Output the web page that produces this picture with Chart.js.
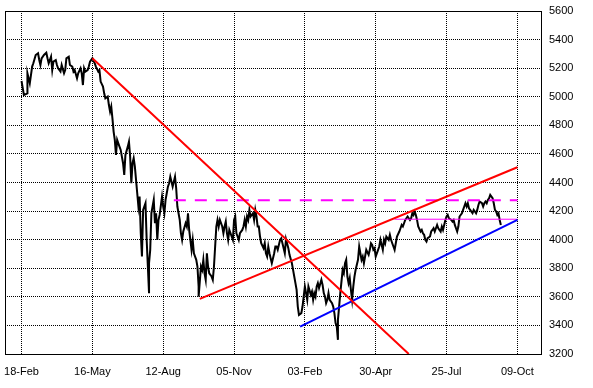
<!DOCTYPE html>
<html>
<head>
<meta charset="utf-8">
<script src="https://cdn.jsdelivr.net/npm/chart.js@4.4.0/dist/chart.umd.min.js"></script>
<style>
html, body { margin: 0; padding: 0; background: #fff; }
</style>
</head>
<body>
<canvas id="myChart" width="593" height="388"></canvas>
<script>
// x axis = trading day counted from 18-Feb, a label every 60 days
let tickDays = [0, 60, 120, 180, 240, 300, 360, 420];
let tickLabels = ['18-Feb', '16-May', '12-Aug', '05-Nov', '03-Feb', '30-Apr', '25-Jul', '09-Oct'];

let days = [0,2,5,5,7,9,10,12,14,15,16,17,19,21,22,23,25,26,27,29,30,31,33,34,36,37,38,40,41,43,44,45,47,48,50,51,52,53,54,56,57,58,60,62,63,65,66,67,69,70,
71,73,74,75,76,77,78,79,80,81,82,84,85,86,87,88,90,91,92,93,94,95,96,97,98,99,100,101,102,103,105,106,107,108,108,109,110,112,113,114,115,116,117,119,120,121,122,123,124,125,
126,127,128,130,131,132,133,134,135,136,137,139,140,141,142,143,144,145,146,148,149,150,150,152,153,154,155,156,157,158,159,161,162,163,164,165,166,167,168,170,171,172,173,174,175,176,178,179,180,181,
182,183,184,185,187,188,189,190,191,192,193,194,196,197,198,199,200,201,202,203,205,206,207,208,209,210,211,212,214,215,216,217,219,220,222,223,224,226,227,229,230,231,232,233,234,235,237,238,239,240,
241,242,243,245,246,247,248,249,250,251,252,254,255,256,257,258,259,260,261,263,264,265,266,267,268,268,269,270,272,273,274,275,276,277,278,279,280,281,282,283,285,286,287,288,289,290,291,292,294,295,
296,297,298,299,300,302,303,304,305,306,307,308,309,311,312,313,314,315,316,317,318,320,321,322,323,324,325,326,327,329,330,331,332,333,334,335,336,338,339,340,341,342,343,344,346,347,348,349,350,351,
352,353,355,356,357,358,359,360,361,362,364,365,366,367,368,369,370,371,373,374,375,376,377,378,379,380,382,383,384,385,386,387,388,390,391,392,393,394,395,396,397,399,400,401,402,403,404,405,406];

let closes = [5110,5012,5024,5164,5094,5211,5234,5292,5304,5257,5222,5269,5292,5308,5269,5234,5280,5187,5246,5257,5222,5199,5176,5222,5164,5187,5269,5280,5222,5211,5176,5187,5129,5164,5199,5164,5082,5199,5176,5187,5211,5246,5269,5234,5211,5176,5187,5106,5071,5024,
4989,5001,4942,4896,4931,4849,4756,4698,4593,4698,4674,4628,4581,4535,4453,4593,4651,4686,4581,4395,4535,4570,4511,4418,4325,4232,4301,4045,3882,4208,4255,3998,3812,3625,3835,3928,4185,4278,4115,4185,3998,4138,4173,4301,4232,4185,4278,4325,4371,4395,
4441,4406,4371,4441,4360,4232,4185,4138,4045,3998,4057,4115,4092,4185,4068,3998,3928,3998,3905,3859,3812,3672,3602,3812,3789,3859,3765,3719,3905,3812,3765,3742,3719,3812,3952,4092,4138,4092,4138,4092,4045,4092,4127,4045,3998,4068,4022,3998,4138,4162,
4045,4022,3998,4045,4068,4092,4138,4092,4162,4138,4208,4162,4185,4138,4208,4162,4092,4092,4022,3975,3940,3975,3905,3882,3952,3905,3870,3835,3905,3952,3952,3929,3999,4010,3940,3905,4003,3940,3894,3835,3789,3742,3696,3649,3532,3474,3486,3532,3602,3672,
3626,3579,3672,3614,3637,3579,3626,3602,3672,3696,3661,3719,3684,3626,3602,3556,3579,3626,3579,3556,3532,3486,3416,3393,3299,3439,3532,3626,3789,3765,3835,3859,3742,3696,3731,3649,3579,3672,3742,3789,3859,3952,3905,3859,3882,3835,3882,3929,3894,3929,
3975,3964,3929,3940,3882,3929,3952,3999,3964,3929,3999,3975,4022,3999,4034,3999,3975,3952,3929,3975,4022,4057,4080,4103,4092,4115,4138,4150,4162,4138,4150,4185,4173,4197,4173,4138,4092,4057,4068,4045,4034,3999,3987,4010,4022,4057,4068,4080,4057,4080,
4103,4080,4057,4092,4068,4103,4138,4162,4173,4150,4138,4127,4138,4103,4080,4057,4092,4162,4185,4208,4232,4255,4232,4255,4220,4208,4185,4208,4197,4185,4208,4243,4267,4255,4232,4255,4267,4255,4278,4290,4313,4290,4255,4208,4197,4173,4185,4138,4103];

// trend lines: [day, value] at both ends
let downTrend = [[60, 5270], [328, 3200]];
let upperChannel = [[151, 3586], [420, 4507]];
let lowerChannel = [[236, 3392], [420, 4138]];
let dashedLevel = [[129, 4275], [420, 4275]];
let supportLevel = [[316, 4143], [420, 4143]];

let labelFont = { family: '"Liberation Sans", Arial, sans-serif', size: 11 };

function toPoints(pairs) {
    return pairs.map(p => ({ x: p[0], y: p[1] }));
}

function trendSet(pairs, colour, width, dash) {
    return {
        data: toPoints(pairs),
        borderColor: colour,
        borderWidth: width,
        borderDash: dash || [],
        pointRadius: 0,
        tension: 0,
        fill: false
    };
}

// box round the plot (left and top sides have no axis)
let frame = {
    id: 'frame',
    afterDraw(chart) {
        let a = chart.chartArea;
        let ctx = chart.ctx;
        ctx.save();
        ctx.strokeStyle = '#000';
        ctx.lineWidth = 1;
        ctx.strokeRect(Math.round(a.left) + 0.5, Math.round(a.top) + 0.5,
            Math.round(a.right - a.left), Math.round(a.bottom - a.top));
        ctx.restore();
    }
};

let ctx = document.getElementById('myChart').getContext('2d');
let priceChart = new Chart(ctx, {
    type: 'line',
    data: {
        datasets: [
            trendSet(downTrend, '#ff0000', 2),
            trendSet(upperChannel, '#ff0000', 2),
            trendSet(lowerChannel, '#0000ff', 2),
            trendSet(dashedLevel, '#ff00ff', 2, [12, 9]),
            trendSet(supportLevel, '#ff00ff', 1),
            {
                data: days.map((d, i) => ({ x: d, y: closes[i] })),
                borderColor: '#000000',
                borderWidth: 2,
                pointRadius: 0,
                tension: 0,
                fill: false
            }
        ]
    },
    options: {
        responsive: false,
        animation: false,
        devicePixelRatio: 1,
        layout: { padding: { left: 5, top: 11, right: 0, bottom: 0 } },
        plugins: {
            legend: { display: false },
            tooltip: { enabled: false }
        },
        scales: {
            x: {
                type: 'linear',
                min: -14,
                max: 440,
                afterBuildTicks: scale => { scale.ticks = tickDays.map(v => ({ value: v })); },
                afterFit: scale => {
                    scale.height = 34;
                    scale.paddingLeft = 0;
                    scale.paddingRight = 0;
                },
                ticks: {
                    autoSkip: false,
                    maxRotation: 0,
                    padding: 11,
                    color: '#000',
                    font: labelFont,
                    callback: value => tickLabels[tickDays.indexOf(value)]
                },
                grid: { color: '#000', lineWidth: 1, drawTicks: false },
                border: { display: true, color: '#000', width: 1, dash: [1, 1] }
            },
            y: {
                position: 'right',
                min: 3200,
                max: 5600,
                afterFit: scale => {
                    scale.width = 52;
                    scale.paddingTop = 0;
                    scale.paddingBottom = 0;
                },
                ticks: {
                    stepSize: 200,
                    padding: 8,
                    color: '#000',
                    font: labelFont,
                    callback: value => String(value)
                },
                grid: { color: '#000', lineWidth: 1, drawTicks: false },
                border: { display: true, color: '#000', width: 1, dash: [1, 1] }
            }
        }
    },
    plugins: [frame]
});
</script>
</body>
</html>
